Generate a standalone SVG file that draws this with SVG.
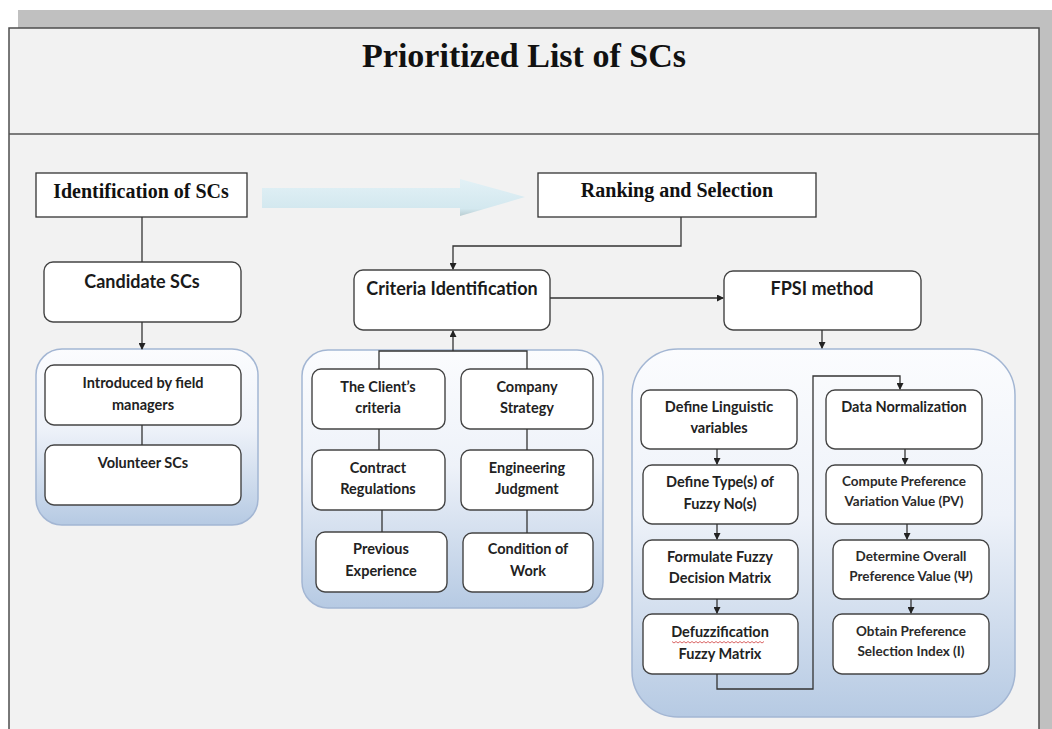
<svg xmlns="http://www.w3.org/2000/svg" width="1052" height="729" viewBox="0 0 1052 729">
<defs>
<linearGradient id="grp" x1="0" y1="0" x2="0" y2="1">
<stop offset="0" stop-color="#fbfcfe"/>
<stop offset="0.45" stop-color="#eef2f9"/>
<stop offset="1" stop-color="#b6cae3"/>
</linearGradient>
<linearGradient id="big" x1="0" y1="0" x2="0" y2="1">
<stop offset="0" stop-color="#e2f1f6"/>
<stop offset="0.8" stop-color="#d3e8ef"/>
<stop offset="1" stop-color="#b9cdd2"/>
</linearGradient>
<marker id="ah" markerWidth="7" markerHeight="7" refX="6" refY="3.5" orient="auto" markerUnits="userSpaceOnUse">
<path d="M0,0 L7,3.5 L0,7 Z" fill="#222"/>
</marker>
<style>
.frame{fill:#f2f2f2;stroke:#4d4d4d;stroke-width:1.5}
.sq{fill:#fff;stroke:#333;stroke-width:1.3}
.rb{fill:#fff;stroke:#444;stroke-width:1.4}
.grp{fill:url(#grp);stroke:#a3b6d3;stroke-width:1.5}
.ln{fill:none;stroke:#333;stroke-width:1.3}
.ar{fill:none;stroke:#333;stroke-width:1.3;marker-end:url(#ah)}
.ser{font-family:"Liberation Serif","Times New Roman",serif;font-weight:bold;fill:#111;text-anchor:middle}
.t{font-family:Lato,"Liberation Sans",Arial,sans-serif;font-weight:bold;font-size:14.5px;fill:#222;text-anchor:middle}
.h{font-family:Lato,"Liberation Sans",Arial,sans-serif;font-weight:bold;font-size:18px;fill:#1a1a1a;text-anchor:middle}
.s{font-family:Lato,"Liberation Sans",Arial,sans-serif;font-weight:bold;font-size:13.5px;fill:#2a2a2a;text-anchor:middle}
</style>
</defs>
<rect x="0" y="0" width="1052" height="729" fill="#fff"/>
<rect x="18" y="10" width="1034" height="719" fill="#c0c0c0"/>
<rect class="frame" x="9" y="28" width="1030" height="712"/>
<line x1="9" y1="134" x2="1039" y2="134" stroke="#555" stroke-width="1.5"/>
<text class="ser" x="524" y="67" font-size="34">Prioritized List of SCs</text>

<g id="candidate-group">
<rect class="grp" x="36" y="349" width="222" height="176" rx="26"/>
</g>
<g id="criteria-group">
<rect class="grp" x="302" y="350" width="301" height="258" rx="26"/>
</g>
<g id="fpsi-group">
<rect class="grp" x="632" y="349" width="383" height="368" rx="46"/>
</g>

<g id="identification">
<rect class="sq" x="36" y="173" width="211" height="44"/>
<text class="ser" x="141" y="198" font-size="20">Identification of SCs</text>
</g>
<g id="ranking">
<rect class="sq" x="538" y="173" width="278" height="44"/>
<text class="ser" x="677" y="197" font-size="20">Ranking and Selection</text>
</g>

<g id="candidate">
<rect class="rb" x="44" y="262" width="197" height="60" rx="9"/>
<text class="h" x="142" y="288" font-size="17.5">Candidate SCs</text>
</g>
<g id="introduced">
<rect class="rb" x="45" y="365" width="196" height="60" rx="9"/>
<text class="t" x="143" y="388">Introduced by field</text>
<text class="t" x="143" y="410">managers</text>
</g>
<g id="volunteer">
<rect class="rb" x="45" y="445" width="196" height="60" rx="9"/>
<text class="t" x="143" y="468">Volunteer SCs</text>
</g>

<g id="criteria">
<rect class="rb" x="354" y="270" width="196" height="60" rx="9"/>
<text class="h" x="452" y="295">Criteria Identification</text>
</g>
<g id="client">
<rect class="rb" x="312" y="369" width="133" height="60" rx="9"/>
<text class="t" x="378" y="392">The Client’s</text>
<text class="t" x="378" y="413">criteria</text>
</g>
<g id="company">
<rect class="rb" x="461" y="369" width="132" height="60" rx="9"/>
<text class="t" x="527" y="392">Company</text>
<text class="t" x="527" y="413">Strategy</text>
</g>
<g id="contract">
<rect class="rb" x="312" y="450" width="133" height="60" rx="9"/>
<text class="t" x="378" y="473">Contract</text>
<text class="t" x="378" y="494">Regulations</text>
</g>
<g id="engineering">
<rect class="rb" x="461" y="450" width="132" height="60" rx="9"/>
<text class="t" x="527" y="473">Engineering</text>
<text class="t" x="527" y="494">Judgment</text>
</g>
<g id="previous">
<rect class="rb" x="316" y="532" width="131" height="60" rx="9"/>
<text class="t" x="381" y="554">Previous</text>
<text class="t" x="381" y="576">Experience</text>
</g>
<g id="condition">
<rect class="rb" x="463" y="533" width="130" height="59" rx="9"/>
<text class="t" x="528" y="554">Condition of</text>
<text class="t" x="528" y="576">Work</text>
</g>

<g id="fpsi">
<rect class="rb" x="724" y="271" width="197" height="59" rx="9"/>
<text class="h" x="822" y="295">FPSI method</text>
</g>
<g id="linguistic">
<rect class="rb" x="641" y="390" width="156" height="59" rx="9"/>
<text class="t" x="719" y="412">Define Linguistic</text>
<text class="t" x="719" y="433">variables</text>
</g>
<g id="type">
<rect class="rb" x="643" y="465" width="155" height="59" rx="9"/>
<text class="t" x="720" y="487">Define Type(s) of</text>
<text class="t" x="720" y="509">Fuzzy No(s)</text>
</g>
<g id="formulate">
<rect class="rb" x="643" y="540" width="155" height="59" rx="9"/>
<text class="t" x="720" y="562">Formulate Fuzzy</text>
<text class="t" x="720" y="583">Decision Matrix</text>
</g>
<g id="defuzz">
<rect class="rb" x="643" y="614" width="155" height="60" rx="9"/>
<text class="t" x="720" y="637">Defuzzification</text>
<path d="M672,641.5 l2,1.5 l2,-1.5 l2,1.5 l2,-1.5 l2,1.5 l2,-1.5 l2,1.5 l2,-1.5 l2,1.5 l2,-1.5 l2,1.5 l2,-1.5 l2,1.5 l2,-1.5 l2,1.5 l2,-1.5 l2,1.5 l2,-1.5 l2,1.5 l2,-1.5 l2,1.5 l2,-1.5 l2,1.5 l2,-1.5 l2,1.5 l2,-1.5 l2,1.5 l2,-1.5 l2,1.5 l2,-1.5 l2,1.5 l2,-1.5 l2,1.5 l2,-1.5 l2,1.5 l2,-1.5 l2,1.5 l2,-1.5 l2,1.5 l2,-1.5 l2,1.5 l2,-1.5 l2,1.5 l2,-1.5 l2,1.5 l2,-1.5" fill="none" stroke="#d04040" stroke-width="0.8"/>
<text class="t" x="720" y="659">Fuzzy Matrix</text>
</g>
<g id="normalization">
<rect class="rb" x="826" y="390" width="156" height="59" rx="9"/>
<text class="t" x="904" y="412">Data Normalization</text>
</g>
<g id="compute">
<rect class="rb" x="826" y="465" width="156" height="59" rx="9"/>
<text class="s" x="904" y="486">Compute Preference</text>
<text class="s" x="904" y="506">Variation Value (PV)</text>
</g>
<g id="determine">
<rect class="rb" x="833" y="540" width="156" height="59" rx="9"/>
<text class="s" x="911" y="561">Determine Overall</text>
<text class="s" x="911" y="581">Preference Value (Ψ)</text>
</g>
<g id="obtain">
<rect class="rb" x="833" y="614" width="156" height="60" rx="9"/>
<text class="s" x="911" y="636">Obtain Preference</text>
<text class="s" x="911" y="656">Selection Index (I)</text>
</g>

<g id="connectors">
<path d="M262,188 L460,188 L460,179 L525,197 L460,216 L460,208 L262,208 Z" fill="url(#big)"/>
<path class="ln" d="M142,217 V262"/>
<path class="ar" d="M142,322 V349"/>
<path class="ln" d="M142,425 V445"/>
<path class="ar" d="M681,217 V246 H453 V269"/>
<path class="ar" d="M453,351 V331"/>
<path class="ln" d="M379,369 V351 H527 V369"/>
<path class="ln" d="M379,429 V450"/>
<path class="ln" d="M382,510 V532"/>
<path class="ln" d="M527,429 V450"/>
<path class="ln" d="M527,510 V533"/>
<path class="ar" d="M550,298 H723"/>
<path class="ar" d="M822,330 V348"/>
<path class="ar" d="M717,449 V464"/>
<path class="ar" d="M717,524 V539"/>
<path class="ar" d="M717,599 V613"/>
<path class="ar" d="M717,674 V689 H813 V376 H900 V389"/>
<path class="ar" d="M905,449 V464"/>
<path class="ar" d="M907,524 V539"/>
<path class="ar" d="M911,599 V613"/>
</g>
</svg>
